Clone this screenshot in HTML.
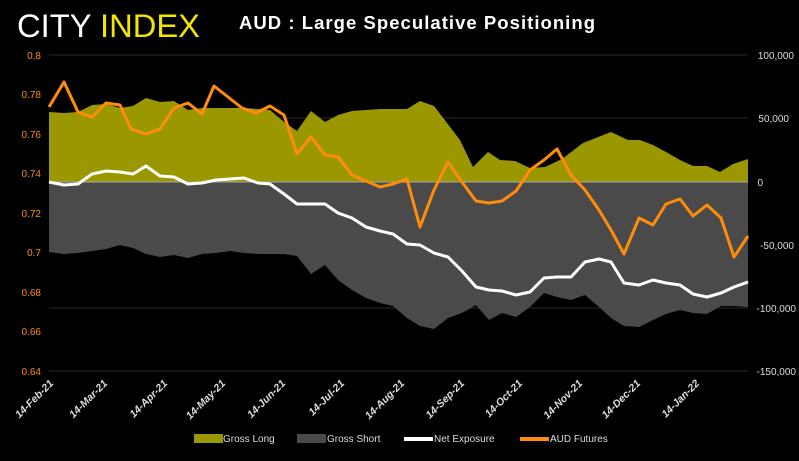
<!DOCTYPE html>
<html><head><meta charset="utf-8"><style>
body{margin:0;background:#000;width:799px;height:456px;overflow:hidden;font-family:"Liberation Sans",sans-serif}
</style></head><body>
<svg width="799" height="456" xmlns="http://www.w3.org/2000/svg" font-family="Liberation Sans, sans-serif">
<rect width="799" height="456" fill="#000"/>
<text x="17" y="37" font-size="32" fill="#fff" textLength="183" lengthAdjust="spacingAndGlyphs">CITY <tspan fill="#f2e600">INDEX</tspan></text>
<text x="239" y="29" font-size="18.5" font-weight="bold" fill="#fff" textLength="356" lengthAdjust="spacing">AUD : Large Speculative Positioning</text>
<g stroke="#2a2a2a" stroke-width="1">
<line x1="49" y1="55" x2="748" y2="55"/><line x1="49" y1="118" x2="748" y2="118"/>
<line x1="49" y1="245" x2="748" y2="245"/><line x1="49" y1="308" x2="748" y2="308"/><line x1="49" y1="371" x2="748" y2="371"/>
</g>
<polygon fill="#9a9700" points="49,182 49,112 64,113 78,112 92,105 106,104 120,108 133,106 146,98 160,102 174,101 188,110 202,108 216,108 230,108 244,108 258,109 270,110 284,122 297,131 311,111 325,122 338,115 352,111 366,110 380,109 393,109 407,109 420,101 434,106 447,123 460,140 473,167 488,152 500,160 515,161 530,168 545,167 562,159 583,143 611,132 628,140 640,140 653,145 666,152 680,160 693,166 707,166 720,172 733,164 748,159 748,182"/>
<polygon fill="#4a4a4a" points="49,182 49,252 64,254 78,253 92,251 106,249 120,245 133,248 146,254 160,257 174,255 188,258 202,254 216,253 230,251 244,253 258,254 270,254 284,254 297,256 311,274 325,265 338,280 352,290 366,298 380,303 393,306 407,318 420,326 434,329 448,318 462,313 476,305 489,320 502,313 516,317 530,307 544,293 557,297 571,300 585,295 599,307 611,318 624,326 639,327 653,320 666,314 680,310 693,313 707,314 721,306 734,306 748,307 748,182"/>
<line x1="49" y1="182" x2="748" y2="182" stroke="#aaa" stroke-width="1"/>
<polyline fill="none" stroke="#fff" stroke-width="3" stroke-linejoin="round" points="49,182 64,185 78,184 92,174 106,171 120,172 133,174 146,166 160,176 174,177 188,184 202,183 216,180 230,179 244,178 258,183 270,184 284,194 297,204 311,204 325,204 338,213 352,218 366,227 380,231 393,234 407,244 420,245 434,253 448,257 462,271 476,287 489,290 502,291 516,295 530,292 544,278 557,277 571,277 585,262 599,259 611,262 624,283 639,285 653,280 666,283 680,285 693,294 707,297 721,293 734,287 748,282"/>
<polyline fill="none" stroke="#ff8c0a" stroke-width="3" stroke-linejoin="round" points="49,107 64,82 78,112 92,117 106,103 120,105 131,129 146,134 160,129 174,108 188,103 202,114 214,86 228,97 242,108 256,113 270,106 284,115 297,154 311,137 325,155 338,157 352,175 366,181 380,187 393,184 407,179 420,227 434,190 448,162 462,182 476,201 489,203 502,201 516,191 530,170 544,160 557,149 571,175 585,190 599,210 611,230 624,254 639,218 653,225 666,204 680,199 693,216 707,205 721,218 734,257 748,236"/>
<g font-size="10" fill="#ff8c0a" text-anchor="end">
<text x="41" y="59">0.8</text><text x="41" y="98">0.78</text><text x="41" y="138">0.76</text><text x="41" y="177">0.74</text><text x="41" y="217">0.72</text><text x="41" y="256">0.7</text><text x="41" y="296">0.68</text><text x="41" y="335">0.66</text><text x="41" y="375">0.64</text>
</g>
<g font-size="10" fill="#ddd" text-anchor="end">
<text x="794" y="59">100,000</text><text x="789" y="122">50,000</text><text x="763" y="186">0</text><text x="794" y="249">-50,000</text><text x="796" y="312">-100,000</text><text x="796" y="375">-150,000</text>
</g>
<g font-size="10.5" fill="#ddd" font-style="italic" font-weight="bold" text-anchor="end">
<text transform="translate(54,384) rotate(-45)">14-Feb-21</text>
<text transform="translate(108,384) rotate(-45)">14-Mar-21</text>
<text transform="translate(168,384) rotate(-45)">14-Apr-21</text>
<text transform="translate(226,384) rotate(-45)">14-May-21</text>
<text transform="translate(286,384) rotate(-45)">14-Jun-21</text>
<text transform="translate(345,384) rotate(-45)">14-Jul-21</text>
<text transform="translate(405,384) rotate(-45)">14-Aug-21</text>
<text transform="translate(465,384) rotate(-45)">14-Sep-21</text>
<text transform="translate(523,384) rotate(-45)">14-Oct-21</text>
<text transform="translate(583,384) rotate(-45)">14-Nov-21</text>
<text transform="translate(641,384) rotate(-45)">14-Dec-21</text>
<text transform="translate(700,384) rotate(-45)">14-Jan-22</text>
</g>
<g font-size="10" fill="#ddd">
<rect x="194" y="434" width="29" height="9" fill="#9a9700"/><text x="223" y="442">Gross Long</text>
<rect x="297" y="434" width="29" height="9" fill="#4a4a4a"/><text x="327" y="442">Gross Short</text>
<rect x="404" y="437" width="29" height="4" fill="#fff"/><text x="434" y="442">Net Exposure</text>
<rect x="520" y="437" width="29" height="4" fill="#ff8c0a"/><text x="550" y="442">AUD Futures</text>
</g>
</svg>
</body></html>
